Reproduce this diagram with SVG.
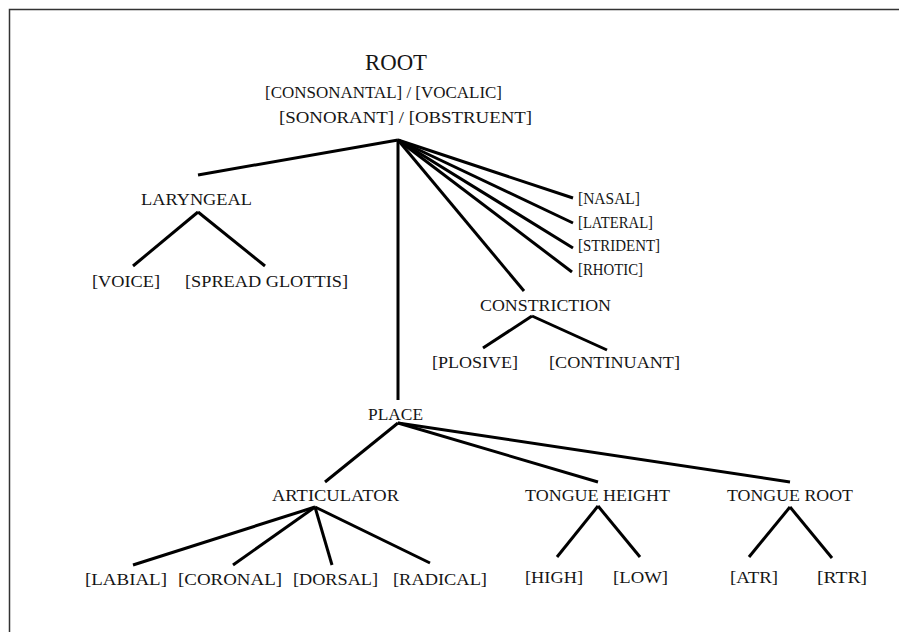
<svg xmlns="http://www.w3.org/2000/svg" width="899" height="632" viewBox="0 0 899 632">
<style>
text{font-family:"Liberation Serif","Times New Roman",serif;font-size:17px;fill:#151515;}
.big{font-size:24px;}
.e{stroke:#000;stroke-width:3;stroke-linecap:butt;fill:none;}
</style>
<rect width="899" height="632" fill="#fff"/>
<path d="M9.5,632 V9.5 H899" stroke="#333" stroke-width="1.5" fill="none"/>
<g id="connectors">
<line class="e" x1="398" y1="140" x2="198" y2="175"/>
<line class="e" x1="398" y1="140" x2="398" y2="400"/>
<line class="e" x1="398" y1="140" x2="573" y2="198"/>
<line class="e" x1="398" y1="140" x2="573" y2="223"/>
<line class="e" x1="398" y1="140" x2="573" y2="248"/>
<line class="e" x1="398" y1="140" x2="572" y2="272"/>
<line class="e" x1="398" y1="140" x2="524" y2="291"/>
<line class="e" x1="198" y1="212" x2="133" y2="266"/>
<line class="e" x1="198" y1="212" x2="265" y2="266"/>
<line class="e" x1="532" y1="316" x2="483" y2="348"/>
<line class="e" x1="532" y1="316" x2="607" y2="350"/>
<line class="e" x1="398" y1="423" x2="325" y2="482"/>
<line class="e" x1="398" y1="423" x2="598" y2="482"/>
<line class="e" x1="398" y1="423" x2="790" y2="482"/>
<line class="e" x1="315" y1="507" x2="133" y2="565"/>
<line class="e" x1="315" y1="507" x2="233" y2="565"/>
<line class="e" x1="315" y1="507" x2="332" y2="565"/>
<line class="e" x1="315" y1="507" x2="430" y2="563"/>
<line class="e" x1="598" y1="506" x2="557" y2="557"/>
<line class="e" x1="598" y1="506" x2="640" y2="557"/>
<line class="e" x1="790" y1="507" x2="749" y2="557"/>
<line class="e" x1="790" y1="507" x2="832" y2="558"/>
</g>
<g id="root">
<text class="big" x="365" y="70" textLength="62" lengthAdjust="spacingAndGlyphs">ROOT</text>
<text x="265" y="98" textLength="237" lengthAdjust="spacingAndGlyphs">[CONSONANTAL] / [VOCALIC]</text>
<text x="279" y="123" textLength="253" lengthAdjust="spacingAndGlyphs">[SONORANT] / [OBSTRUENT]</text>
</g>
<g id="laryngeal"><text x="141" y="205" textLength="111" lengthAdjust="spacingAndGlyphs">LARYNGEAL</text></g>
<g id="voice"><text x="92" y="287" textLength="68" lengthAdjust="spacingAndGlyphs">[VOICE]</text></g>
<g id="spread"><text x="185" y="287" textLength="163" lengthAdjust="spacingAndGlyphs">[SPREAD GLOTTIS]</text></g>
<g id="nasal"><text x="578" y="204" textLength="62" lengthAdjust="spacingAndGlyphs">[NASAL]</text></g>
<g id="lateral"><text x="578" y="228" textLength="75" lengthAdjust="spacingAndGlyphs">[LATERAL]</text></g>
<g id="strident"><text x="578" y="251" textLength="82" lengthAdjust="spacingAndGlyphs">[STRIDENT]</text></g>
<g id="rhotic"><text x="578" y="275" textLength="65" lengthAdjust="spacingAndGlyphs">[RHOTIC]</text></g>
<g id="constriction"><text x="480" y="311" textLength="131" lengthAdjust="spacingAndGlyphs">CONSTRICTION</text></g>
<g id="plosive"><text x="432" y="368" textLength="86" lengthAdjust="spacingAndGlyphs">[PLOSIVE]</text></g>
<g id="continuant"><text x="549" y="368" textLength="131" lengthAdjust="spacingAndGlyphs">[CONTINUANT]</text></g>
<g id="place"><text x="368" y="420" textLength="55" lengthAdjust="spacingAndGlyphs">PLACE</text></g>
<g id="articulator"><text x="272" y="501" textLength="127" lengthAdjust="spacingAndGlyphs">ARTICULATOR</text></g>
<g id="tongue-height"><text x="525" y="501" textLength="145" lengthAdjust="spacingAndGlyphs">TONGUE HEIGHT</text></g>
<g id="tongue-root"><text x="727" y="501" textLength="126" lengthAdjust="spacingAndGlyphs">TONGUE ROOT</text></g>
<g id="labial"><text x="85" y="585" textLength="82" lengthAdjust="spacingAndGlyphs">[LABIAL]</text></g>
<g id="coronal"><text x="178" y="585" textLength="104" lengthAdjust="spacingAndGlyphs">[CORONAL]</text></g>
<g id="dorsal"><text x="293" y="585" textLength="85" lengthAdjust="spacingAndGlyphs">[DORSAL]</text></g>
<g id="radical"><text x="393" y="585" textLength="94" lengthAdjust="spacingAndGlyphs">[RADICAL]</text></g>
<g id="high"><text x="525" y="583" textLength="58" lengthAdjust="spacingAndGlyphs">[HIGH]</text></g>
<g id="low"><text x="613" y="583" textLength="55" lengthAdjust="spacingAndGlyphs">[LOW]</text></g>
<g id="atr"><text x="730" y="583" textLength="48" lengthAdjust="spacingAndGlyphs">[ATR]</text></g>
<g id="rtr"><text x="817" y="583" textLength="50" lengthAdjust="spacingAndGlyphs">[RTR]</text></g>
</svg>
